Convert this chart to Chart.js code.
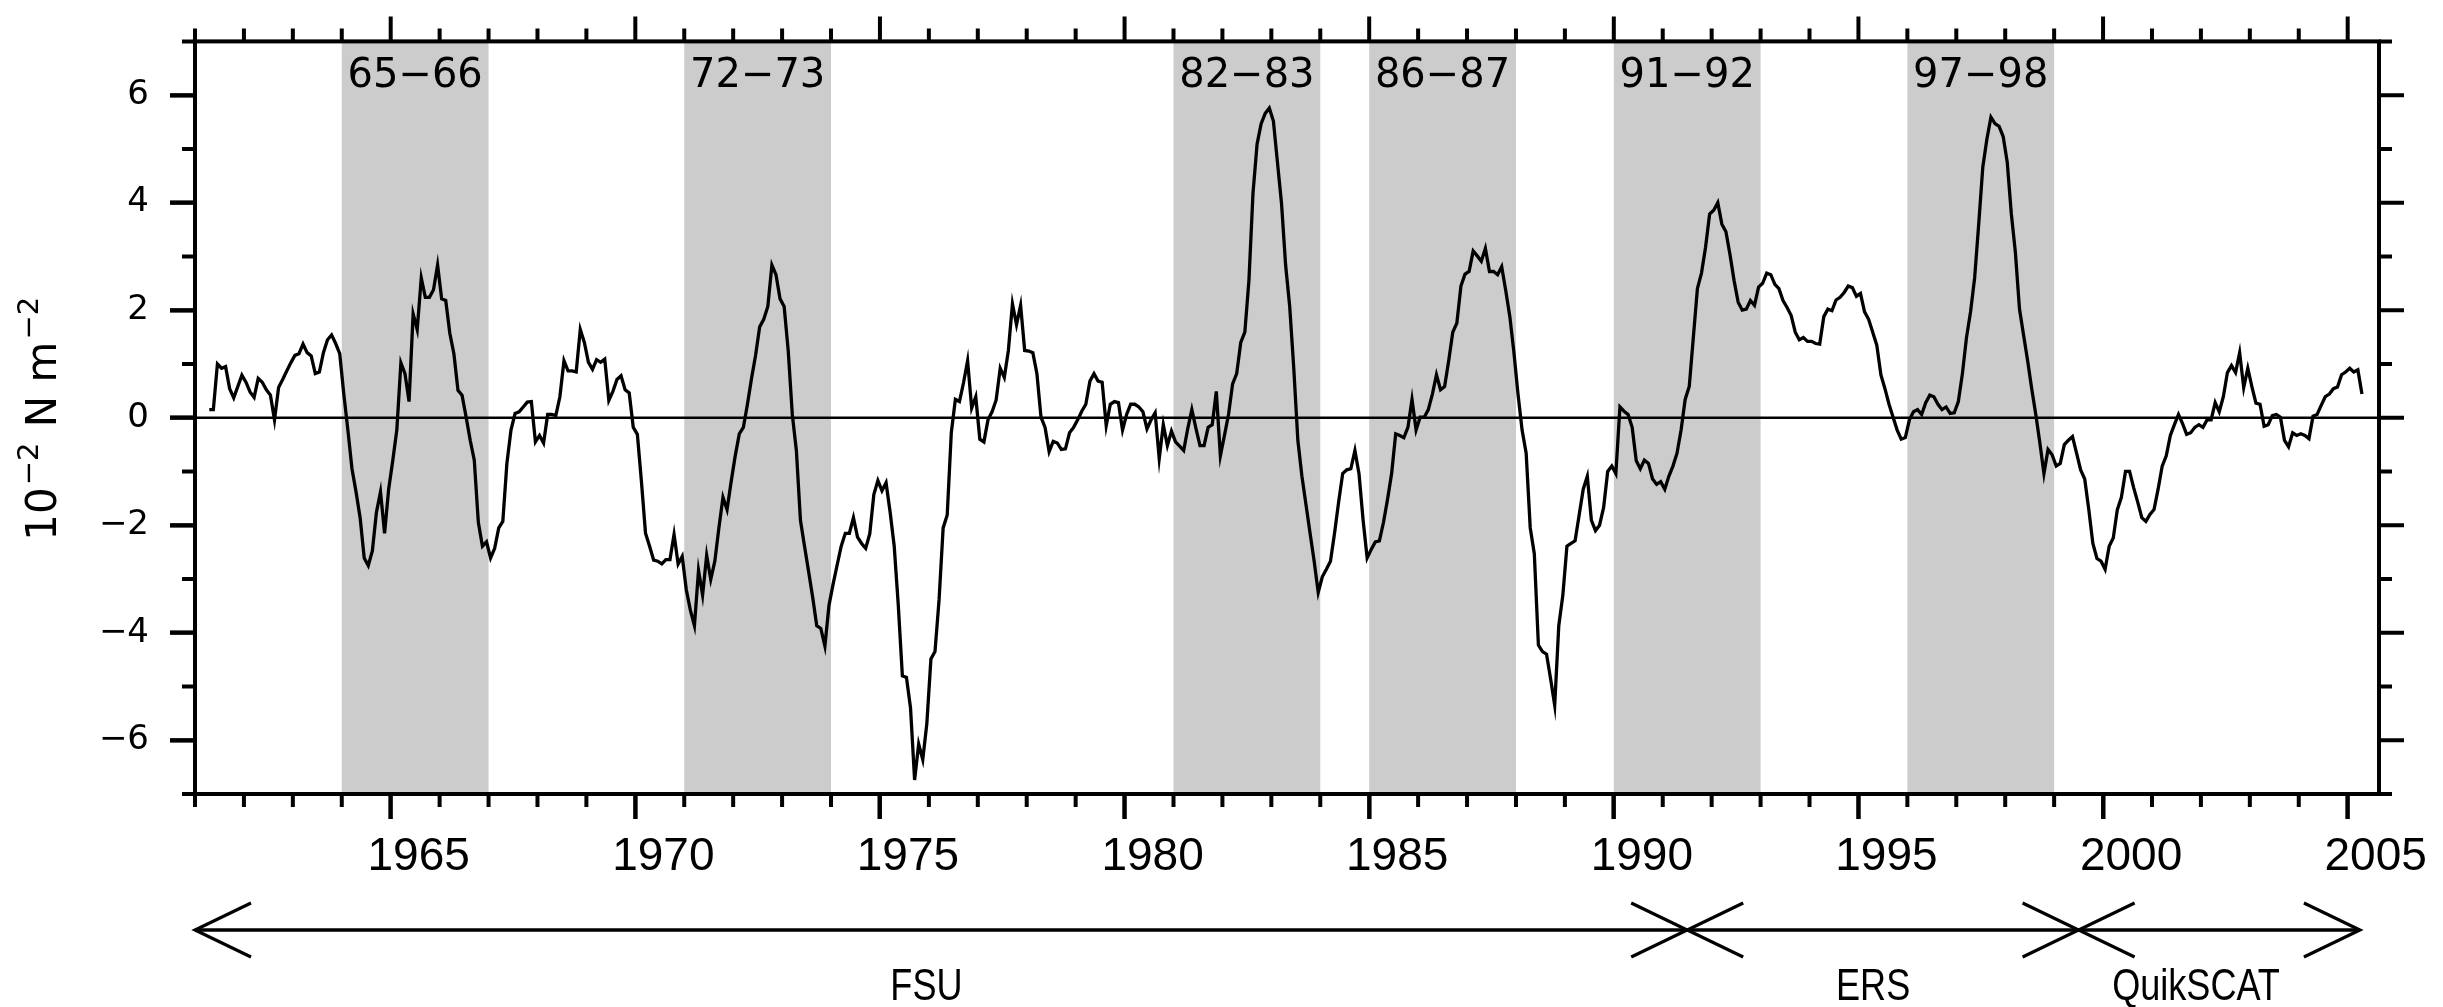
<!DOCTYPE html>
<html>
<head>
<meta charset="utf-8">
<title>Wind stress anomaly</title>
<script src="https://cdn.jsdelivr.net/npm/chart.js@4.4.1/dist/chart.umd.min.js"></script>
<style>
  html, body { margin: 0; padding: 0; background: #ffffff; }
  #wrap { width: 2443px; height: 1007px; }
</style>
</head>
<body>
<div id="wrap"><canvas id="c" width="2443" height="1007"></canvas></div>
<script>
// Monthly zonal wind stress anomaly (10^-2 N m^-2), first value April 1961
const startYear = 1961;
const startMonth = 4;
const stress = [
  0.15, 0.15, 1.00, 0.92, 0.95, 0.54, 0.37, 0.58, 0.79,
  0.66, 0.48, 0.38, 0.73, 0.66, 0.52, 0.42, -0.04, 0.56, 0.71, 0.87, 1.02,
  1.16, 1.19, 1.37, 1.21, 1.15, 0.82, 0.85, 1.21, 1.45, 1.54, 1.38, 1.19,
  0.44, -0.23, -0.95, -1.38, -1.86, -2.61, -2.75, -2.48, -1.76, -1.38, -2.15, -1.33,
  -0.80, -0.23, 1.02, 0.82, 0.30, 1.93, 1.64, 2.60, 2.24, 2.24, 2.38, 2.84,
  2.21, 2.18, 1.57, 1.19, 0.51, 0.42, 0.01, -0.42, -0.79, -1.95, -2.39, -2.31,
  -2.61, -2.43, -2.05, -1.93, -0.85, -0.23, 0.08, 0.11, 0.20, 0.29, 0.30, -0.45,
  -0.33, -0.47, 0.06, 0.06, 0.04, 0.39, 1.06, 0.87, 0.87, 0.85, 1.64, 1.40,
  1.03, 0.90, 1.08, 1.03, 1.09, 0.32, 0.49, 0.71, 0.78, 0.52, 0.46, -0.18,
  -0.31, -1.19, -2.15, -2.39, -2.65, -2.67, -2.72, -2.64, -2.64, -2.17, -2.72, -2.58,
  -3.20, -3.58, -3.87, -2.84, -3.30, -2.56, -3.01, -2.67, -2.05, -1.48, -1.71, -1.19,
  -0.71, -0.30, -0.18, 0.25, 0.73, 1.16, 1.69, 1.83, 2.07, 2.84, 2.66, 2.21,
  2.07, 1.25, 0.06, -0.61, -1.91, -2.39, -2.86, -3.34, -3.87, -3.92, -4.25, -3.49,
  -3.10, -2.74, -2.39, -2.15, -2.15, -1.86, -2.22, -2.34, -2.43, -2.16, -1.43, -1.17,
  -1.36, -1.21, -1.76, -2.39, -3.49, -4.80, -4.83, -5.40, -6.74, -6.07, -6.36, -5.69,
  -4.49, -4.35, -3.39, -2.05, -1.81, -0.28, 0.34, 0.30, 0.65, 1.06, 0.18, 0.39,
  -0.40, -0.45, -0.04, 0.11, 0.33, 0.92, 0.75, 1.25, 2.12, 1.73, 2.09, 1.25,
  1.24, 1.21, 0.82, 0.01, -0.18, -0.63, -0.44, -0.47, -0.59, -0.58, -0.28, -0.18,
  -0.04, 0.12, 0.25, 0.68, 0.82, 0.68, 0.66, -0.15, 0.25, 0.30, 0.28, -0.23,
  0.06, 0.25, 0.25, 0.20, 0.11, -0.21, -0.04, 0.09, -0.76, -0.13, -0.52, -0.25,
  -0.45, -0.53, -0.61, -0.20, 0.15, -0.20, -0.52, -0.52, -0.18, -0.13, 0.49, -0.71,
  -0.33, 0.06, 0.63, 0.82, 1.40, 1.59, 2.55, 4.18, 5.09, 5.47, 5.66, 5.76,
  5.52, 4.75, 3.98, 2.84, 2.07, 0.92, -0.42, -1.09, -1.62, -2.15, -2.67, -3.25,
  -2.96, -2.82, -2.67, -2.15, -1.57, -1.04, -0.97, -0.95, -0.61, -1.04, -1.90, -2.61,
  -2.45, -2.31, -2.29, -1.95, -1.52, -1.04, -0.30, -0.33, -0.37, -0.18, 0.34, -0.23,
  0.01, 0.01, 0.15, 0.44, 0.80, 0.52, 0.58, 1.06, 1.59, 1.76, 2.45, 2.67,
  2.72, 3.10, 3.01, 2.91, 3.15, 2.72, 2.72, 2.66, 2.81, 2.36, 1.88, 1.21,
  0.44, -0.23, -0.66, -2.05, -2.53, -4.23, -4.35, -4.40, -4.86, -5.35, -3.87, -3.30,
  -2.39, -2.34, -2.29, -1.81, -1.33, -1.09, -1.91, -2.10, -2.00, -1.67, -1.00, -0.90,
  -1.04, 0.20, 0.12, 0.06, -0.18, -0.80, -0.95, -0.79, -0.85, -1.14, -1.24, -1.19,
  -1.33, -1.09, -0.90, -0.66, -0.23, 0.34, 0.58, 1.49, 2.40, 2.69, 3.17, 3.79,
  3.86, 4.00, 3.60, 3.46, 3.03, 2.55, 2.15, 2.00, 2.02, 2.18, 2.09, 2.43,
  2.50, 2.69, 2.66, 2.48, 2.40, 2.18, 2.05, 1.90, 1.59, 1.45, 1.49, 1.42,
  1.42, 1.38, 1.37, 1.88, 2.02, 1.99, 2.19, 2.24, 2.33, 2.45, 2.42, 2.26,
  2.31, 1.97, 1.83, 1.59, 1.35, 0.80, 0.54, 0.25, 0.01, -0.23, -0.40, -0.37,
  -0.04, 0.11, 0.15, 0.06, 0.28, 0.42, 0.39, 0.25, 0.15, 0.20, 0.08, 0.09,
  0.30, 0.82, 1.49, 1.97, 2.60, 3.60, 4.66, 5.18, 5.59, 5.47, 5.42, 5.23,
  4.75, 3.79, 3.07, 2.02, 1.54, 1.06, 0.54, 0.06, -0.47, -1.04, -0.59, -0.69,
  -0.90, -0.85, -0.50, -0.42, -0.35, -0.66, -0.97, -1.14, -1.71, -2.34, -2.62, -2.67,
  -2.82, -2.39, -2.24, -1.71, -1.48, -1.00, -1.00, -1.30, -1.57, -1.86, -1.93, -1.80,
  -1.71, -1.33, -0.90, -0.71, -0.33, -0.13, 0.06, -0.11, -0.31, -0.28, -0.18, -0.13,
  -0.18, -0.04, -0.04, 0.28, 0.11, 0.39, 0.84, 0.97, 0.84, 1.21, 0.56, 0.92,
  0.58, 0.27, 0.25, -0.16, -0.13, 0.04, 0.06, 0.01, -0.42, -0.54, -0.28, -0.33,
  -0.30, -0.33, -0.39, 0.03, 0.06, 0.23, 0.39, 0.44, 0.54, 0.57, 0.80, 0.85,
  0.92, 0.85, 0.89, 0.44
];

// El Nino episodes (shaded bands)
const eventLabels = ['65\u221266', '72\u221273', '82\u221283', '86\u221287', '91\u221292', '97\u221298'];
const eventStart = [1964, 1971, 1981, 1985, 1990, 1996];
const eventEnd = [1967, 1974, 1984, 1988, 1993, 1999];

// Axis ticks
const xTickYears = [1965, 1970, 1975, 1980, 1985, 1990, 1995, 2000, 2005];
const yTickValues = [-6, -4, -2, 0, 2, 4, 6];

// Wind products used for each period
const productNames = ['FSU', 'ERS', 'QuikSCAT'];
const productBounds = [1961, 1991.5, 1999.5, 2005.25];
const productLabelAt = [1975.95, 1995.3, 2001.9];

const points = stress.map((v, i) => ({ x: startYear + (startMonth - 0.5 + i) / 12, y: v }));

function minusLabel(v) {
  return v < 0 ? '\u2212' + Math.abs(v) : String(v);
}

const decor = {
  id: 'decor',
  beforeDatasetsDraw(chart) {
    const { ctx, chartArea: a, scales: { x, y } } = chart;
    ctx.save();
    // shaded episodes
    ctx.fillStyle = '#cccccc';
    eventStart.forEach((s, i) => {
      const x0 = x.getPixelForValue(s);
      const x1 = x.getPixelForValue(eventEnd[i]);
      ctx.fillRect(x0, a.top, x1 - x0, a.bottom - a.top);
    });
    // zero line
    const y0 = y.getPixelForValue(0);
    ctx.strokeStyle = '#000';
    ctx.lineWidth = 2.6;
    ctx.beginPath();
    ctx.moveTo(a.left, y0);
    ctx.lineTo(a.right, y0);
    ctx.stroke();
    // episode labels
    ctx.fillStyle = '#000';
    ctx.font = '40px "DejaVu Sans"';
    ctx.textAlign = 'center';
    ctx.textBaseline = 'alphabetic';
    eventLabels.forEach((t, i) => {
      ctx.fillText(t, x.getPixelForValue((eventStart[i] + eventEnd[i]) / 2), a.top + 46);
    });
    ctx.restore();
  },
  afterDraw(chart) {
    const { ctx, chartArea: a, scales: { x, y } } = chart;
    ctx.save();
    ctx.strokeStyle = '#000';
    ctx.fillStyle = '#000';
    ctx.lineCap = 'butt';

    // frame
    ctx.lineWidth = 4;
    ctx.strokeRect(a.left, a.top, a.right - a.left, a.bottom - a.top);

    // ticks on all four sides (every year / every unit, longer at labelled values)
    const major = 25, minor = 13;
    ctx.lineWidth = 4;
    ctx.beginPath();
    for (let yr = Math.ceil(x.min); yr <= Math.floor(x.max); yr++) {
      const px = x.getPixelForValue(yr);
      const len = yr % 5 === 0 ? major : minor;
      ctx.moveTo(px, a.bottom); ctx.lineTo(px, a.bottom + len);
      ctx.moveTo(px, a.top); ctx.lineTo(px, a.top - len);
    }
    for (let v = y.min; v <= y.max; v++) {
      const py = y.getPixelForValue(v);
      const len = v % 2 === 0 ? major : minor;
      ctx.moveTo(a.left, py); ctx.lineTo(a.left - len, py);
      ctx.moveTo(a.right, py); ctx.lineTo(a.right + len, py);
    }
    ctx.stroke();

    // y-axis title with superscripts
    const pieces = [['10', false], ['\u22122', true], [' N m', false], ['\u22122', true]];
    const bigFont = '42px "DejaVu Sans"', supFont = '29px "DejaVu Sans"';
    let total = 0;
    const widths = pieces.map(([t, sup]) => {
      ctx.font = sup ? supFont : bigFont;
      const w = ctx.measureText(t).width + (sup ? 4 : 0);
      total += w;
      return w;
    });
    ctx.translate(41, (a.top + a.bottom) / 2);
    ctx.rotate(-Math.PI / 2);
    ctx.textAlign = 'left';
    ctx.textBaseline = 'alphabetic';
    let cx = -total / 2;
    pieces.forEach(([t, sup], i) => {
      ctx.font = sup ? supFont : bigFont;
      ctx.fillText(t, cx + (sup ? 2 : 0), sup ? -3 : 15);
      cx += widths[i];
    });
    ctx.setTransform(1, 0, 0, 1, 0, 0);

    // product periods: double-headed arrows with labels
    const ay = 930, hx = 56, hy = 27;
    const bx = productBounds.map(v => x.getPixelForValue(v));
    ctx.lineWidth = 3.6;
    ctx.beginPath();
    ctx.moveTo(bx[0], ay);
    ctx.lineTo(bx[bx.length - 1], ay);
    ctx.stroke();
    ctx.lineWidth = 3.2;
    ctx.beginPath();
    bx.forEach((p, k) => {
      if (k < bx.length - 1) {
        ctx.moveTo(p + hx, ay - hy); ctx.lineTo(p, ay); ctx.lineTo(p + hx, ay + hy);
      }
      if (k > 0) {
        ctx.moveTo(p - hx, ay - hy); ctx.lineTo(p, ay); ctx.lineTo(p - hx, ay + hy);
      }
    });
    ctx.stroke();
    // condensed labels
    ctx.font = '44px "Liberation Sans", Arial, sans-serif';
    ctx.textAlign = 'center';
    ctx.textBaseline = 'alphabetic';
    productNames.forEach((n, i) => {
      ctx.save();
      ctx.translate(x.getPixelForValue(productLabelAt[i]), 1000);
      ctx.scale(0.82, 1);
      ctx.fillText(n, 0, 0);
      ctx.restore();
    });
    ctx.restore();
  }
};

new Chart(document.getElementById('c'), {
  type: 'line',
  data: {
    datasets: [{
      data: points,
      borderColor: '#000000',
      borderWidth: 3.3,
      pointRadius: 0,
      fill: false,
      tension: 0
    }]
  },
  options: {
    responsive: false,
    animation: false,
    devicePixelRatio: 1,
    layout: { padding: { top: 34, right: 64, left: 0, bottom: 0 } },
    plugins: {
      legend: { display: false },
      tooltip: { enabled: false },
      title: { display: false }
    },
    scales: {
      x: {
        type: 'linear',
        min: 1961,
        max: 2005.64,
        afterFit: s => { s.height = 213; },
        afterBuildTicks: s => { s.ticks = xTickYears.map(v => ({ value: v })); },
        grid: { display: true, drawOnChartArea: false, drawTicks: true, tickLength: 25, tickWidth: 4, tickColor: '#000' },
        border: { display: false },
        ticks: {
          autoSkip: false, maxRotation: 0, minRotation: 0,
          labelOffset: 28, padding: 11, color: '#000',
          font: { family: '"Liberation Sans", Arial, sans-serif', size: 46 },
          callback: v => String(v)
        }
      },
      y: {
        type: 'linear',
        min: -7,
        max: 7,
        afterFit: s => { s.width = 195; },
        afterBuildTicks: s => { s.ticks = yTickValues.map(v => ({ value: v })); },
        grid: { display: true, drawOnChartArea: false, drawTicks: true, tickLength: 25, tickWidth: 4, tickColor: '#000' },
        border: { display: false },
        ticks: {
          padding: 21, color: '#000',
          font: { family: '"DejaVu Sans", sans-serif', size: 34 },
          callback: v => minusLabel(v)
        }
      }
    }
  },
  plugins: [decor]
});
</script>
</body>
</html>
